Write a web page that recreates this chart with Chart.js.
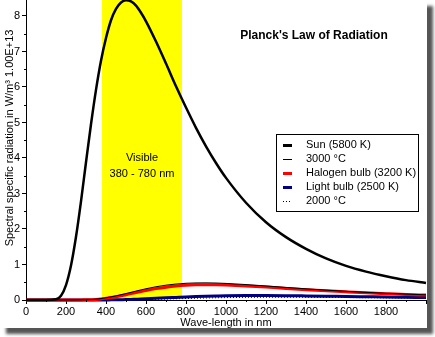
<!DOCTYPE html>
<html lang="en">
<head>
    <meta charset="UTF-8">
    <title>Planck's Law of Radiation</title>
    <script src="https://cdn.jsdelivr.net/npm/chart.js"></script>
    <style>
        html, body { margin: 0; padding: 0; background: #fff; }
        #frame { position: absolute; left: 0; top: 0; width: 427px; height: 328px; background: #fff; box-shadow: 6px 6px 3px #555; }
        canvas { display: block; }
    </style>
</head>
<body>
    <div id="frame"><canvas id="planckChart" width="427" height="328"></canvas></div>

    <script>
        // wave-length in nm
        const waveNm = [0, 100, 150, 175, 200, 225, 250, 275, 300, 325, 350, 375, 400, 425, 450, 475, 500, 525, 550, 575, 600,
                        650, 700, 750, 800, 850, 900, 950, 1000, 1100, 1200, 1300, 1400, 1500, 1600, 1700, 1800, 1900, 2000];
        // spectral specific radiation, units of 1.00E+13 W/m³
        const sun5800K = [0, 0, 0.02, 0.12, 0.42, 0.97, 1.78, 2.78, 3.88, 4.95, 5.92, 6.74, 7.38, 7.88, 8.2, 8.38, 8.44, 8.41, 8.29, 8.09, 7.85,
                          7.28, 6.66, 6.02, 5.42, 4.85, 4.33, 3.86, 3.44, 2.74, 2.19, 1.77, 1.44, 1.17, 0.96, 0.8, 0.67, 0.56, 0.48];
        const celsius3000 = [0, 0, 0, 0, 0, 0, 0.001, 0.003, 0.007, 0.013, 0.024, 0.04, 0.062, 0.087, 0.116, 0.148, 0.182, 0.216, 0.251, 0.285, 0.317,
                             0.373, 0.418, 0.45, 0.471, 0.481, 0.483, 0.478, 0.467, 0.435, 0.396, 0.355, 0.315, 0.278, 0.244, 0.215, 0.189, 0.166, 0.146];
        const halogen3200K = [0, 0, 0, 0, 0, 0, 0, 0.001, 0.005, 0.009, 0.017, 0.03, 0.048, 0.068, 0.093, 0.12, 0.149, 0.18, 0.209, 0.239, 0.268,
                              0.32, 0.362, 0.394, 0.415, 0.427, 0.432, 0.43, 0.422, 0.397, 0.363, 0.327, 0.292, 0.259, 0.229, 0.201, 0.178, 0.156, 0.138];
        const bulb2500K = [0, 0, 0, 0, 0, 0, 0, 0, 0, 0, 0, 0.001, 0.002, 0.004, 0.006, 0.009, 0.012, 0.017, 0.022, 0.027, 0.033,
                           0.046, 0.06, 0.073, 0.086, 0.097, 0.106, 0.113, 0.119, 0.125, 0.125, 0.122, 0.116, 0.109, 0.1, 0.092, 0.084, 0.077, 0.07];
        const celsius2000 = [0, 0, 0, 0, 0, 0, 0, 0, 0, 0, 0, 0, 0, 0, 0, 0, 0.004, 0.005, 0.007, 0.01, 0.013,
                             0.019, 0.026, 0.034, 0.042, 0.049, 0.056, 0.062, 0.067, 0.074, 0.077, 0.078, 0.077, 0.074, 0.07, 0.065, 0.061, 0.056, 0.052];

        const seriesLabels = ['Sun (5800 K)', '3000 °C', 'Halogen bulb (3200 K)', 'Light bulb (2500 K)', '2000 °C'];
        const visibleBand = [380, 780];
        const xTicksMajor = [0, 200, 400, 600, 800, 1000, 1200, 1400, 1600, 1800];

        const FONT = '"Liberation Sans", Arial, sans-serif';
        Chart.defaults.font.family = FONT;
        Chart.defaults.font.size = 11;
        Chart.defaults.color = '#000';

        const toPoints = vals => waveNm.map((w, i) => ({ x: w, y: vals[i] }));

        function line(label, vals, color, width, dash) {
            return {
                label: label,
                data: toPoints(vals),
                borderColor: color,
                backgroundColor: color,
                borderWidth: width,
                borderDash: dash || [],
                pointRadius: 0,
                cubicInterpolationMode: 'monotone',
                fill: false,
                clip: 4
            };
        }

        const decor = {
            id: 'decor',
            beforeDatasetsDraw(chart) {
                const { ctx, chartArea: a, scales: { x, y } } = chart;
                ctx.save();
                const x0 = x.getPixelForValue(visibleBand[0]);
                const x1 = x.getPixelForValue(visibleBand[1]);
                ctx.fillStyle = '#ffff00';
                ctx.fillRect(x0, a.top, x1 - x0, a.bottom - a.top - 1);

                ctx.fillStyle = '#000';
                ctx.font = '11px ' + FONT;
                ctx.textAlign = 'center';
                ctx.textBaseline = 'middle';
                const xc = x.getPixelForValue((visibleBand[0] + visibleBand[1]) / 2);
                ctx.fillText('Visible', xc, y.getPixelForValue(4.0));
                ctx.fillText('380 - 780 nm', xc, y.getPixelForValue(3.55));
                ctx.restore();
            },
            afterDraw(chart) {
                const { ctx, chartArea: a, scales: { x, y } } = chart;
                ctx.save();
                // minor ticks
                ctx.strokeStyle = '#000';
                ctx.lineWidth = 1;
                ctx.beginPath();
                for (let v = 100; v < 2000; v += 200) {
                    const px = Math.round(x.getPixelForValue(v)) + 0.5;
                    ctx.moveTo(px, a.bottom); ctx.lineTo(px, a.bottom + 2);
                }
                for (let v = 0.5; v < 8.45; v += 1) {
                    const py = Math.round(y.getPixelForValue(v)) + 0.5;
                    ctx.moveTo(a.left - 2, py); ctx.lineTo(a.left, py);
                }
                ctx.stroke();

                // chart title
                ctx.fillStyle = '#000';
                ctx.font = 'bold 12px ' + FONT;
                ctx.textAlign = 'center';
                ctx.textBaseline = 'middle';
                ctx.fillText("Planck's Law of Radiation", x.getPixelForValue(1440), y.getPixelForValue(7.45));

                // axis titles
                ctx.font = '11px ' + FONT;
                ctx.fillText('Wave-length in nm', (a.left + a.right) / 2, 323);
                ctx.save();
                ctx.translate(10, 138);
                ctx.rotate(-Math.PI / 2);
                ctx.fillText('Spectral specific radiation in W/m³ 1.00E+13', 0, 0);
                ctx.restore();

                // legend
                const lx = 276, ly = 134, lw = 142, lh = 77;
                ctx.fillStyle = '#fff';
                ctx.fillRect(lx, ly, lw, lh);
                ctx.strokeStyle = '#000';
                ctx.strokeRect(lx + 0.5, ly + 0.5, lw, lh);
                ctx.textAlign = 'left';
                chart.data.datasets.forEach((ds, i) => {
                    const cy = ly + 11 + i * 14;
                    ctx.strokeStyle = ds.borderColor;
                    ctx.lineWidth = Math.round(ds.borderWidth);
                    ctx.setLineDash(ds.borderDash);
                    ctx.beginPath();
                    const yy = ctx.lineWidth % 2 ? cy + 0.5 : cy;
                    ctx.moveTo(lx + 7, yy); ctx.lineTo(lx + 16, yy);
                    ctx.stroke();
                    ctx.setLineDash([]);
                    ctx.fillStyle = '#000';
                    ctx.fillText(ds.label, lx + 30, cy);
                });
                ctx.restore();
            }
        };

        const ctx = document.getElementById('planckChart').getContext('2d');
        new Chart(ctx, {
            type: 'line',
            data: {
                datasets: [
                    line(seriesLabels[0], sun5800K, '#000000', 2.5),
                    line(seriesLabels[1], celsius3000, '#000000', 1),
                    line(seriesLabels[2], halogen3200K, '#ff0000', 3),
                    line(seriesLabels[3], bulb2500K, '#000080', 3),
                    line(seriesLabels[4], celsius2000, '#000000', 1, [1, 2])
                ]
            },
            options: {
                responsive: false,
                animation: false,
                layout: { padding: { top: 0, right: 1, left: 0, bottom: 0 } },
                plugins: { legend: { display: false }, tooltip: { enabled: false } },
                scales: {
                    x: {
                        type: 'linear',
                        min: 0,
                        max: 2000,
                        afterFit: s => { s.height = 28; s.paddingLeft = 0; s.paddingRight = 0; },
                        grid: { display: true, drawOnChartArea: false, tickLength: 4, tickColor: '#000' },
                        border: { color: '#000' },
                        ticks: {
                            stepSize: 200,
                            autoSkip: false,
                            maxRotation: 0,
                            padding: 1,
                            callback: v => xTicksMajor.includes(v) ? String(v) : ''
                        }
                    },
                    y: {
                        min: 0,
                        max: 8.45,
                        afterFit: s => { s.width = 26; s.paddingTop = 0; s.paddingBottom = 0; },
                        grid: { display: true, drawOnChartArea: false, tickLength: 4, tickColor: '#000' },
                        border: { color: '#000' },
                        ticks: {
                            stepSize: 1,
                            includeBounds: false,
                            padding: 2,
                            callback: v => String(v)
                        }
                    }
                }
            },
            plugins: [decor]
        });
    </script>
</body>
</html>
